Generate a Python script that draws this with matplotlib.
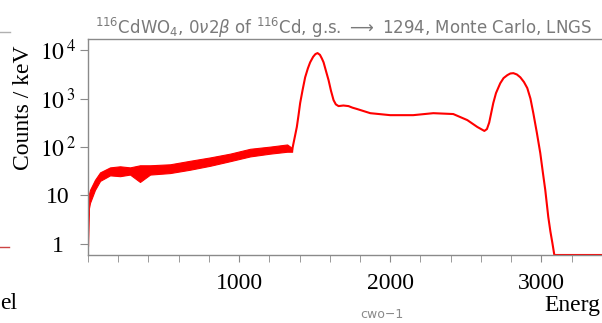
import matplotlib
matplotlib.use("Agg")
import matplotlib.pyplot as plt
import numpy as np
from matplotlib.lines import Line2D
from matplotlib.ticker import AutoMinorLocator, FixedLocator, FixedFormatter, LogLocator, NullFormatter

plt.rcParams["font.family"] = ["Liberation Serif", "DejaVu Serif"]
plt.rcParams["mathtext.fontset"] = "stix"

# noisy low-energy part: band (keV, counts/keV)
noise_energy = [0, 4, 13, 46, 80, 146, 212, 278, 344, 411, 543, 675, 808, 940, 1073, 1205, 1318, 1351]
noise_lo = [0.9, 5, 7, 13, 20, 26, 25, 27, 19, 27, 29, 34, 41, 51, 64, 73, 80, 80]
noise_hi = [1.2, 10, 13, 21, 30, 38, 40, 38, 42, 42, 44, 52, 61, 73, 92, 102, 113, 95]

# smooth part of the spectrum (keV, counts/keV), 0 = empty bins
energy = [1351, 1360, 1370, 1382, 1393, 1404, 1420, 1437, 1455, 1470, 1490, 1505, 1519,
          1535, 1548, 1559, 1575, 1592, 1608, 1625, 1640, 1658, 1690, 1724, 1750, 1780,
          1868, 2000, 2152, 2285, 2417, 2510, 2576, 2623, 2640, 2655, 2668, 2682, 2700,
          2728, 2750, 2775, 2795, 2815, 2838, 2861, 2885, 2907, 2928, 2947, 2970, 2993,
          3010, 3026, 3046, 3060, 3073, 3086, 3600]
counts = [87, 120, 170, 260, 450, 810, 1500, 2750, 4200, 5600, 7300, 8300, 8700,
          8000, 6700, 5600, 3700, 2400, 1450, 930, 760, 700, 720, 700, 650, 610,
          500, 455, 455, 500, 480, 360, 260, 215, 235, 320, 500, 810, 1300,
          2070, 2650, 3050, 3300, 3350, 3150, 2750, 2200, 1650, 1000, 500, 200, 75,
          30, 13, 3.6, 1.8, 1.05, 0, 0]

y_ticks = [1, 10, 100, 1000, 10000]
y_labels = ["1", "10", r"$10^{\,2}$", r"$10^{\,3}$", r"$10^{\,4}$"]
x_ticks = [1000, 2000, 3000]

Y_MIN, Y_MAX = 0.59, 1.7e4
GRAY = "#8a8a8a"

fig = plt.figure(figsize=(6.02, 3.23), dpi=100)
ax = fig.add_axes([88 / 602, 68 / 323, (632 - 88) / 602, 216 / 323])

ax.fill_between(noise_energy, noise_lo, noise_hi, color="red", lw=0.8)
ax.plot(energy, np.maximum(counts, Y_MIN), color="red", lw=1.5)

ax.set_yscale("log")
ax.set_xlim(0, 3600)
ax.set_ylim(Y_MIN, Y_MAX)

ax.xaxis.set_major_locator(FixedLocator(x_ticks))
ax.xaxis.set_minor_locator(AutoMinorLocator(5))
ax.yaxis.set_major_locator(FixedLocator(y_ticks))
ax.yaxis.set_major_formatter(FixedFormatter(y_labels))
ax.yaxis.set_minor_locator(LogLocator(base=10, subs=np.arange(2, 10)))
ax.yaxis.set_minor_formatter(NullFormatter())

for s in ["left", "bottom", "top"]:
    ax.spines[s].set_color(GRAY)
    ax.spines[s].set_linewidth(1.0)
ax.spines["right"].set_visible(False)

ax.tick_params(axis="x", which="both", direction="out", length=5, color=GRAY, labelsize=17, pad=8)
ax.tick_params(axis="y", which="major", direction="out", length=6, color=GRAY, labelsize=17, pad=16)
ax.tick_params(axis="y", which="minor", direction="out", length=3, color=GRAY)
for lab in ax.get_yticklabels():
    lab.set_horizontalalignment("center")

fig.text(24 / 602, 1 - 108 / 323, "Counts / keV", rotation=90, ha="center", va="center", fontsize=17)
fig.text(544 / 602, 1 - 311 / 323, "Energ", ha="left", va="baseline", fontsize=17)

fig.text(95 / 602, 1 - 34 / 323,
         r"$^{116}$CdWO$_4$, 0$\nu$2$\beta$ of $^{116}$Cd, g.s. $\longrightarrow$ 1294, Monte Carlo, LNGS",
         family=["DejaVu Sans"], fontsize=12, color="#7a7a7a", ha="left", va="baseline",
         math_fontfamily="dejavusans")
fig.text(382 / 602, 1 - 315 / 323, "cwo\u22121", family=["DejaVu Sans"], fontsize=9,
         color="#8a8a8a", ha="center", va="center")

# pieces of the neighbouring panel at the left edge
fig.add_artist(Line2D([0, 10 / 602], [1 - 32 / 323] * 2, color="#b0b0b0", lw=1, transform=fig.transFigure))
fig.add_artist(Line2D([0, 9 / 602], [1 - 247 / 323] * 2, color="#cc4444", lw=1, transform=fig.transFigure))
fig.text(0, 1 - 309 / 323, "el", ha="left", va="baseline", fontsize=17)

fig.savefig("out.png", dpi=100)
plt.close(fig)
